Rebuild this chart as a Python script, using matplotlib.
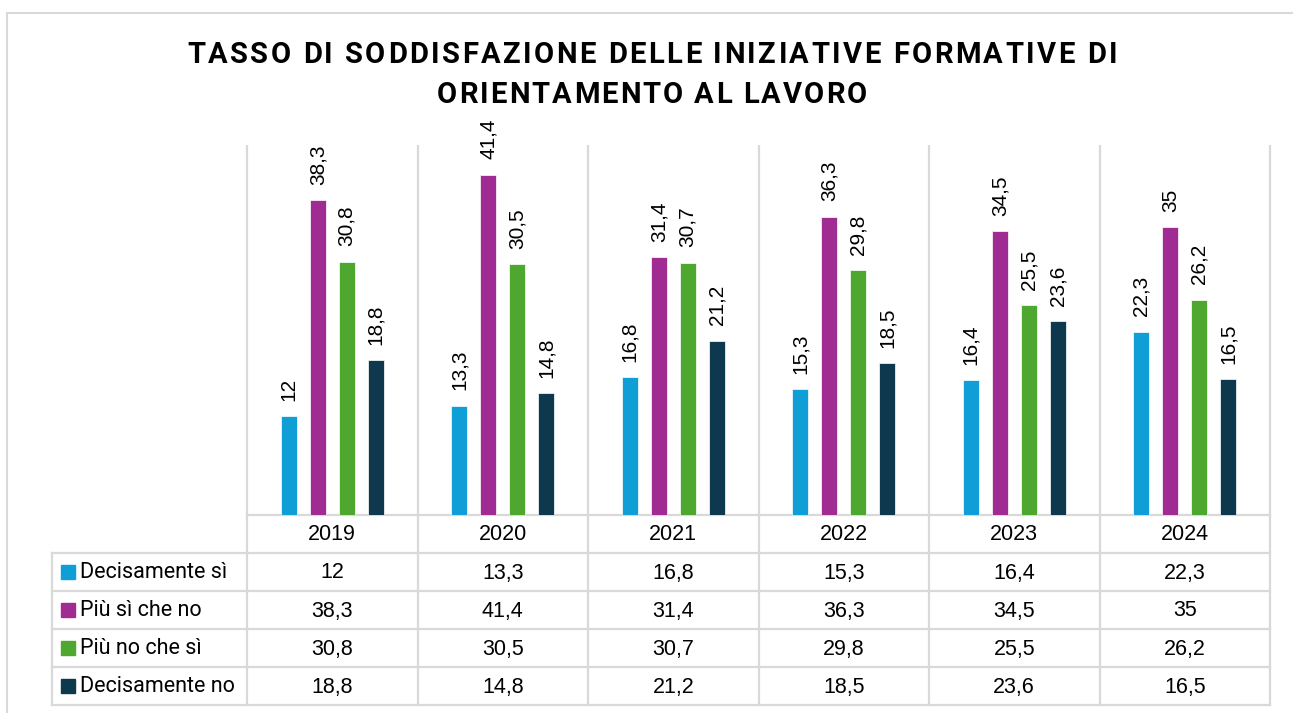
import numpy as np
import matplotlib
matplotlib.use("Agg")
import matplotlib.pyplot as plt

years = ["2019", "2020", "2021", "2022", "2023", "2024"]
series_names = ["Decisamente sì", "Più sì che no", "Più no che sì", "Decisamente no"]
decisamente_si = [12, 13.3, 16.8, 15.3, 16.4, 22.3]
piu_si_che_no = [38.3, 41.4, 31.4, 36.3, 34.5, 35]
piu_no_che_si = [30.8, 30.5, 30.7, 29.8, 25.5, 26.2]
decisamente_no = [18.8, 14.8, 21.2, 18.5, 23.6, 16.5]
series = [decisamente_si, piu_si_che_no, piu_no_che_si, decisamente_no]
colors = ["#0F9ED5", "#A02B93", "#4EA72E", "#0E384E"]
title_lines = ["TASSO DI SODDISFAZIONE DELLE INIZIATIVE FORMATIVE DI",
               "ORIENTAMENTO AL LAVORO"]

W, H = 1293, 713
GRID = "#D9D9D9"
NUMFONT = "Liberation Sans"
LEGFONT = "Roboto"


def fmt(v):
    return f"{v:g}".replace(".", ",")


fig = plt.figure(figsize=(W / 100, H / 100), dpi=100)
fig.patch.set_facecolor("white")

# overlay in pixel coordinates for the frame and the data table
ov = fig.add_axes([0, 0, 1, 1])
ov.set_xlim(0, W)
ov.set_ylim(H, 0)
ov.axis("off")
ov.patch.set_visible(False)

# plot area
x0, x1, ytop, ybase = 247, 1270, 145, 515
ax = fig.add_axes([x0 / W, 1 - ybase / H, (x1 - x0) / W, (ybase - ytop) / H])
ax.set_xlim(0, len(years))
ax.set_ylim(0, 45)
ax.axis("off")
ax.patch.set_visible(False)

ax.vlines(np.arange(len(years) + 1), 0, 45, color=GRID, lw=1.6, clip_on=False, zorder=0)

offsets = [-0.255, -0.085, 0.085, 0.255]
xc = np.arange(len(years)) + 0.5
for vals, off, col in zip(series, offsets, colors):
    bars = ax.bar(xc + off, vals, width=0.094, color=col, edgecolor="white",
                  linewidth=0.5, zorder=2)
    for b, v in zip(bars, vals):
        ax.annotate(fmt(v), (b.get_x() + b.get_width() / 2, v), xytext=(0, 11),
                    textcoords="offset points", rotation=90, ha="center",
                    va="bottom", fontsize=15, family=NUMFONT, color="black")

# outer frame
ov.plot([7, W], [13, 13], color=GRID, lw=1.5)
ov.plot([7, 7], [13, H], color=GRID, lw=1.5)

# table
colw = (x1 - x0) / len(years)
col_edges = [x0 + i * colw for i in range(len(years) + 1)]
row_edges = [553, 591, 629, 667, 705]
lx = 52
ov.plot([x0, x1], [ybase, ybase], color=GRID, lw=1.6)
for y in row_edges:
    ov.plot([lx, x1], [y, y], color=GRID, lw=1.6)
for x in col_edges:
    ov.plot([x, x], [ybase, row_edges[-1]], color=GRID, lw=1.6)
ov.plot([lx, lx], [row_edges[0], row_edges[-1]], color=GRID, lw=1.6)

for i, yr in enumerate(years):
    ov.text(x0 + (i + 0.5) * colw, (ybase + row_edges[0]) / 2 + 1, yr, ha="center",
            va="center", fontsize=15.5, family=NUMFONT)

for r, (name, vals, col) in enumerate(zip(series_names, series, colors)):
    yc = (row_edges[r] + row_edges[r + 1]) / 2
    ov.add_patch(plt.Rectangle((61, yc - 7), 14, 14, color=col))
    ov.text(80, yc + 1, name, ha="left", va="center", fontsize=15.5, family=LEGFONT)
    for i, v in enumerate(vals):
        ov.text(x0 + (i + 0.5) * colw, yc + 1, fmt(v), ha="center", va="center",
                fontsize=15.5, family=NUMFONT)

# title with letter spacing, drawn glyph by glyph
renderer = fig.canvas.get_renderer()
tkw = dict(fontsize=21, family="Roboto", weight="bold", color="black")


def text_w(s):
    t = fig.text(0, 0, s, **tkw)
    w = t.get_window_extent(renderer).width
    t.remove()
    return w


def tracked(line, cx, base_y, target_w):
    ref = text_w("HH")
    widths = [text_w("H" + c + "H") - ref for c in line]
    track = (target_w - sum(widths)) / (len(line) - 1)
    x = cx - target_w / 2
    for c, w in zip(line, widths):
        if c != " ":
            fig.text(x / W, 1 - base_y / H, c, ha="left", va="baseline", **tkw)
        x += w + track


tracked(title_lines[0], 652, 63, 930)
tracked(title_lines[1], 652, 103, 430)

fig.savefig("out.png", dpi=100)
